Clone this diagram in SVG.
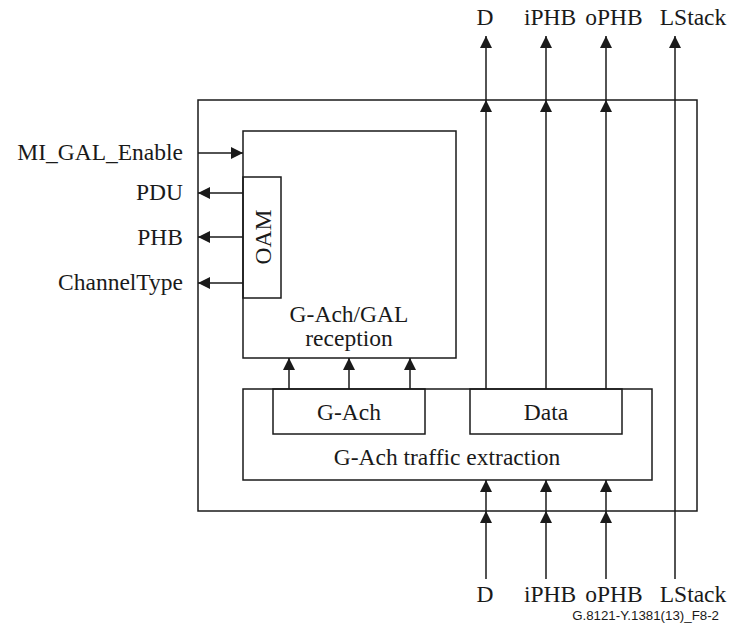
<svg xmlns="http://www.w3.org/2000/svg" width="731" height="639" viewBox="0 0 731 639">
<style>
.box{fill:none;stroke:#1a1a1a;stroke-width:1.5}
.ln{fill:none;stroke:#1a1a1a;stroke-width:1.5}
text{font-family:"Liberation Serif","Times New Roman",serif;font-size:23.5px;fill:#1a1a1a}
.c{text-anchor:middle}
.r{text-anchor:end}
.cap{font-family:"Liberation Sans",Arial,sans-serif;font-size:13.3px;text-anchor:end}
</style>
<defs>
<marker id="ah" viewBox="0 0 12 12" refX="12" refY="6" markerWidth="12" markerHeight="12" markerUnits="userSpaceOnUse" orient="auto">
<path d="M0,0 L12,6 L0,12 z" fill="#1a1a1a"/>
</marker>
</defs>
<rect x="0" y="0" width="731" height="639" fill="#fff"/>
<g id="outer"><rect class="box" x="198" y="100" width="499" height="411"/></g>
<g id="reception">
<rect class="box" x="243" y="131" width="213" height="227"/>
<text class="c" x="349" y="322">G-Ach/GAL</text>
<text class="c" x="349" y="346">reception</text>
</g>
<g id="oam">
<rect class="box" x="243" y="177" width="38" height="121"/>
<text class="c" transform="translate(271,237) rotate(-90)">OAM</text>
</g>
<g id="extraction">
<rect class="box" x="243" y="389" width="409" height="91"/>
<text class="c" x="447" y="465">G-Ach traffic extraction</text>
</g>
<g id="gach">
<rect class="box" x="273" y="389" width="152" height="45"/>
<text class="c" x="349" y="420">G-Ach</text>
</g>
<g id="data">
<rect class="box" x="470" y="389" width="152" height="45"/>
<text class="c" x="546" y="420">Data</text>
</g>
<g id="labels">
<text class="r" x="183" y="160">MI_GAL_Enable</text>
<text class="r" x="183" y="200">PDU</text>
<text class="r" x="183" y="245">PHB</text>
<text class="r" x="183" y="290">ChannelType</text>
<text class="c" x="485" y="25">D</text>
<text class="c" x="550" y="25">iPHB</text>
<text class="c" x="614" y="25">oPHB</text>
<text class="c" x="693" y="25">LStack</text>
<text class="c" x="485" y="602">D</text>
<text class="c" x="550" y="602">iPHB</text>
<text class="c" x="614" y="602">oPHB</text>
<text class="c" x="693" y="602">LStack</text>
<text class="cap" x="719" y="620">G.8121-Y.1381(13)_F8-2</text>
</g>
<g id="connectors">
<line class="ln" x1="198" y1="153" x2="243" y2="153" marker-end="url(#ah)"/>
<line class="ln" x1="243" y1="193" x2="198" y2="193" marker-end="url(#ah)"/>
<line class="ln" x1="243" y1="237" x2="198" y2="237" marker-end="url(#ah)"/>
<line class="ln" x1="243" y1="283" x2="198" y2="283" marker-end="url(#ah)"/>
<line class="ln" x1="289" y1="389" x2="289" y2="358" marker-end="url(#ah)"/>
<line class="ln" x1="349" y1="389" x2="349" y2="358" marker-end="url(#ah)"/>
<line class="ln" x1="410" y1="389" x2="410" y2="358" marker-end="url(#ah)"/>
<line class="ln" x1="486" y1="389" x2="486" y2="100" marker-end="url(#ah)"/>
<line class="ln" x1="546" y1="389" x2="546" y2="100" marker-end="url(#ah)"/>
<line class="ln" x1="606" y1="389" x2="606" y2="100" marker-end="url(#ah)"/>
<line class="ln" x1="486" y1="100" x2="486" y2="36" marker-end="url(#ah)"/>
<line class="ln" x1="546" y1="100" x2="546" y2="36" marker-end="url(#ah)"/>
<line class="ln" x1="606" y1="100" x2="606" y2="36" marker-end="url(#ah)"/>
<line class="ln" x1="675" y1="579" x2="675" y2="36" marker-end="url(#ah)"/>
<line class="ln" x1="486" y1="579" x2="486" y2="511" marker-end="url(#ah)"/>
<line class="ln" x1="546" y1="579" x2="546" y2="511" marker-end="url(#ah)"/>
<line class="ln" x1="606" y1="579" x2="606" y2="511" marker-end="url(#ah)"/>
<line class="ln" x1="486" y1="511" x2="486" y2="480" marker-end="url(#ah)"/>
<line class="ln" x1="546" y1="511" x2="546" y2="480" marker-end="url(#ah)"/>
<line class="ln" x1="606" y1="511" x2="606" y2="480" marker-end="url(#ah)"/>
</g>
</svg>
